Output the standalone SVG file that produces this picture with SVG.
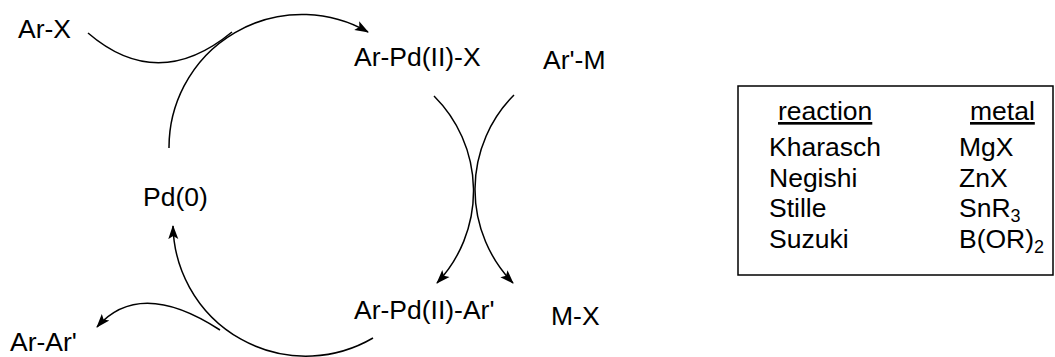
<svg xmlns="http://www.w3.org/2000/svg" width="1055" height="357" viewBox="0 0 1055 357">
<style>
text{font-family:"Liberation Sans",Arial,sans-serif;font-size:26.5px;fill:#000}
.c{fill:none;stroke:#000;stroke-width:1.5}
.u{text-decoration:underline}
.s{font-size:18px}
</style>
<defs>
<marker id="ah" markerUnits="userSpaceOnUse" markerWidth="16" markerHeight="12" refX="13" refY="5" orient="auto" viewBox="0 0 16 10">
<path d="M0,0 L14,5 L0,10 L3,5 Z" fill="#000"/>
</marker>
</defs>
<rect width="1055" height="357" fill="#fff"/>
<g id="connectors">
<path class="c" d="M169,148 A133,133 0 0 1 368,32" marker-end="url(#ah)"/>
<path class="c" d="M88,33 Q158,93 232,32"/>
<path class="c" d="M373,338 A133,133 0 0 1 173,226" marker-end="url(#ah)"/>
<path class="c" d="M220,330 Q140,278 97,327" marker-end="url(#ah)"/>
<path class="c" d="M434,96 A134,134 0 0 1 437,283" marker-end="url(#ah)"/>
<path class="c" d="M514,95 A134,134 0 0 0 513,283" marker-end="url(#ah)"/>
</g>
<g id="ArX"><text x="18" y="38">Ar-X</text></g>
<g id="ArPdX"><text x="354" y="66">Ar-Pd(II)-X</text></g>
<g id="ArM"><text x="543" y="69">Ar'-M</text></g>
<g id="Pd0"><text x="143" y="206">Pd(0)</text></g>
<g id="ArPdAr"><text x="354" y="319">Ar-Pd(II)-Ar'</text></g>
<g id="MX"><text x="551" y="325">M-X</text></g>
<g id="ArAr"><text x="10" y="351">Ar-Ar'</text></g>
<g id="table">
<rect x="738" y="86" width="315" height="189" fill="none" stroke="#000" stroke-width="1.5"/>
<text x="778" y="120" class="u">reaction</text>
<text x="970" y="120" class="u">metal</text>
<text x="769" y="156">Kharasch</text>
<text x="769" y="187">Negishi</text>
<text x="769" y="217">Stille</text>
<text x="769" y="248">Suzuki</text>
<text x="959" y="156">MgX</text>
<text x="959" y="187">ZnX</text>
<text x="959" y="217">SnR<tspan class="s" dy="5">3</tspan></text>
<text x="959" y="248">B(OR)<tspan class="s" dy="5">2</tspan></text>
</g>
</svg>
